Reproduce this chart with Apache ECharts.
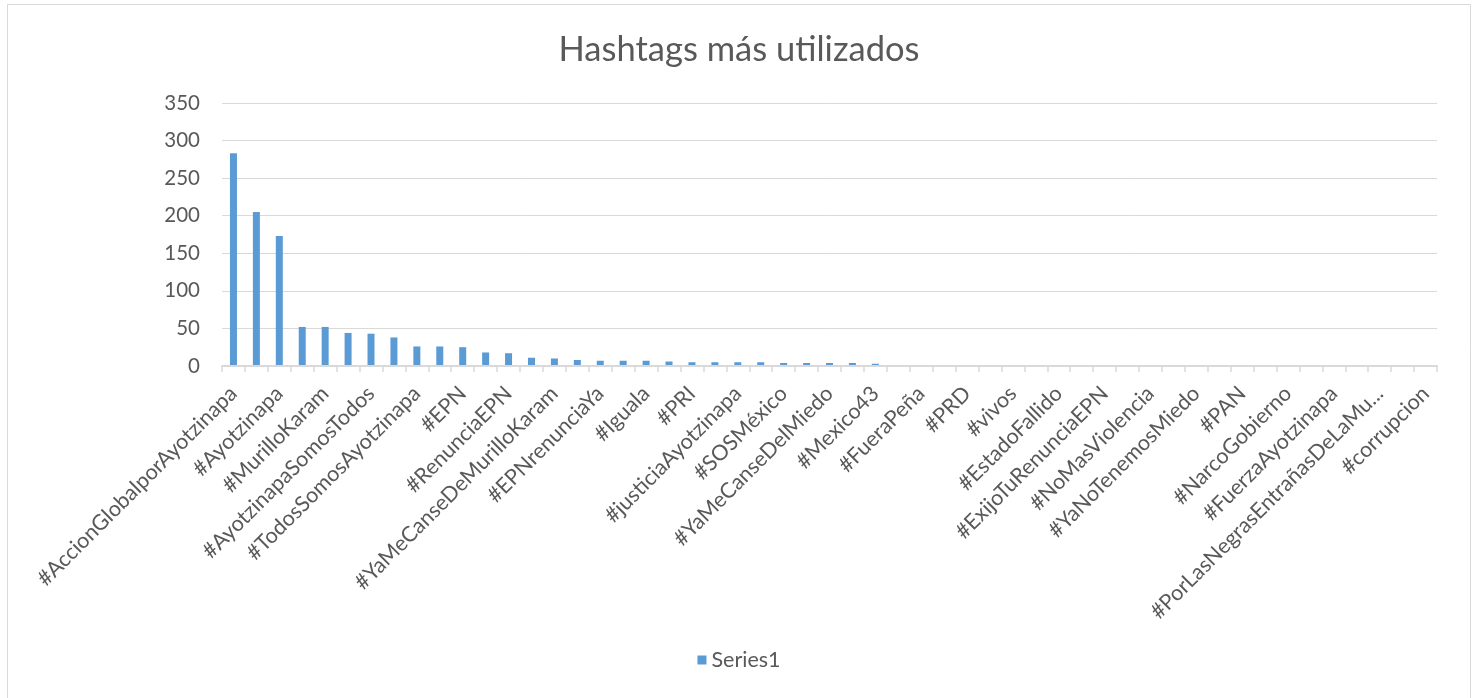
<!DOCTYPE html>
<html>
<head>
<meta charset="utf-8">
<script src="https://cdn.jsdelivr.net/npm/echarts@6/dist/echarts.min.js"></script>
<style>
html,body{margin:0;padding:0;background:#fff;}
#chart{width:1478px;height:698px;}
</style>
</head>
<body>
<div id="chart"></div>
<script>
const titleText = 'Hashtags más utilizados';
const seriesName = 'Series1';
const categories = [
  '#AccionGlobalporAyotzinapa', '#YaMeCanse',
  '#Ayotzinapa', '#Ayotzinapa43',
  '#MurilloKaram', '#FueElEstado',
  '#AyotzinapaSomosTodos', '#NiUnoMas',
  '#TodosSomosAyotzinapa', '#Guerrero',
  '#EPN', '#43',
  '#RenunciaEPN', '#PeñaNieto',
  '#YaMeCanseDeMurilloKaram', '#Normalistas',
  '#EPNrenunciaYa', '#JusticiaParaAyotzinapa',
  '#Iguala', '#MéxicoNosDuele',
  '#PRI', '#VivosLosQueremos',
  '#justiciaAyotzinapa', '#NoEstánSolos',
  '#SOSMéxico', '#Abarca',
  '#YaMeCanseDelMiedo', '#Cocula',
  '#Mexico43', '#TodosSomos43',
  '#FueraPeña', '#NiPerdónNiOlvido',
  '#PRD', '#México',
  '#vivos', '#ParoNacional',
  '#EstadoFallido', '#20NovMx',
  '#ExijoTuRenunciaEPN', '#FueraEPN',
  '#NoMasViolencia', '#Normalistas43',
  '#YaNoTenemosMiedo', '#Tixtla',
  '#PAN', '#Chilpancingo',
  '#NarcoGobierno', '#AyotzinapaVive',
  '#FuerzaAyotzinapa', '#Impunidad',
  '#PorLasNegrasEntrañasDeLaMuerte', '#GobiernoAsesino',
  '#corrupcion'
];
const values = [
  283, 205, 173, 52, 52, 44, 43, 38, 26, 26,
  25, 18, 17, 11, 10, 8, 7, 7, 7, 6,
  5, 5, 5, 5, 4, 4, 4, 4, 3, 1,
  1, 1, 1, 1, 1, 1, 1, 1, 1, 1,
  1, 1, 1, 1, 1, 1, 1, 1, 1, 1,
  1, 1, 1
];
const yTicks = {min: 0, max: 350, interval: 50};

const chart = echarts.init(document.getElementById('chart'));
const font = 'Lato, "Open Sans", sans-serif';
chart.setOption({
  backgroundColor: '#ffffff',
  animation: false,
  textStyle: {fontFamily: font},
  graphic: [{
    type: 'rect',
    shape: {x: 7.5, y: 4.5, width: 1463, height: 700},
    style: {fill: 'none', stroke: '#d9d9d9', lineWidth: 1},
    silent: true
  }],
  title: {
    text: titleText,
    left: 'center',
    top: 27,
    textStyle: {color: '#595959', fontSize: 34.5, fontWeight: 'normal', fontFamily: font}
  },
  legend: {
    data: [seriesName],
    bottom: 22,
    left: 'center',
    icon: 'rect',
    itemWidth: 9,
    itemHeight: 9,
    itemGap: 7,
    textStyle: {color: '#595959', fontSize: 21.5, fontFamily: font}
  },
  grid: {left: 222, right: 41, top: 103, bottom: 332, containLabel: false},
  xAxis: {
    type: 'category',
    data: categories,
    boundaryGap: true,
    z: 5,
    axisLine: {show: true, lineStyle: {color: '#d9d9d9', width: 2}},
    axisTick: {show: true, interval: 0, length: 6, lineStyle: {color: '#d9d9d9', width: 1.5}},
    axisLabel: {
      interval: 1,
      rotate: 45,
      margin: 24,
      color: '#595959',
      fontSize: 21.5,
      fontFamily: font,
      formatter: function (v) { return v.length > 28 ? v.slice(0, 27) + '...' : v; }
    },
    splitLine: {show: false}
  },
  yAxis: {
    type: 'value',
    min: yTicks.min,
    max: yTicks.max,
    interval: yTicks.interval,
    axisLine: {show: false},
    axisTick: {show: false},
    axisLabel: {color: '#595959', fontSize: 20.5, margin: 22, fontFamily: font},
    splitLine: {lineStyle: {color: '#d9d9d9', width: 1}}
  },
  series: [{
    name: seriesName,
    type: 'bar',
    data: values,
    barWidth: 7,
    itemStyle: {color: '#5b9bd5'}
  }]
});
</script>
</body>
</html>
